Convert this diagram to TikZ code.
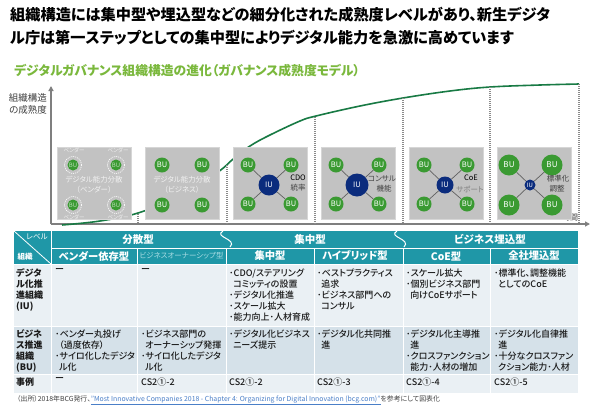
\documentclass[tikz,border=0pt]{standalone}
\usepackage{fontspec}
\setmainfont{Noto Sans CJK JP}[RawFeature=+palt]
\newfontfamily\medfont{Noto Sans CJK JP Medium}[RawFeature=+palt]
\usetikzlibrary{arrows.meta}
\definecolor{hdrteal}{HTML}{1F97A7}
\definecolor{rowlight}{HTML}{EAF0F4}
\definecolor{rowdark}{HTML}{D5E1E9}
\definecolor{bugreen}{HTML}{3A9A32}
\definecolor{iunavy}{HTML}{0B2C7D}
\definecolor{curvegreen}{HTML}{187A44}
\definecolor{subgreen}{HTML}{7AB83C}
\definecolor{boxgray}{HTML}{C2C2C2}
\definecolor{boxedge}{HTML}{D6D6D6}
\definecolor{spokegray}{HTML}{606060}
\definecolor{labgray}{HTML}{404040}
\definecolor{dotgray}{HTML}{8A8A8A}
\definecolor{axisgray}{HTML}{7F7F7F}
\definecolor{txtdark}{HTML}{1A1A1A}
\definecolor{linkblue}{HTML}{4A7FC8}
\definecolor{fadedhdr}{HTML}{A9DCE3}
\tikzset{
 box/.style={fill=boxgray, draw=boxedge, line width=0.8pt, minimum width=74, minimum height=72, anchor=north west, inner sep=0},
 bu/.style={circle, fill=bugreen, text=white, inner sep=0, minimum size=15, font=\fontsize{7.5}{8}\selectfont},
 bubig/.style={bu, minimum size=21, font=\fontsize{8}{8}\selectfont},
 iu/.style={circle, fill=iunavy, text=white, inner sep=0, font=\fontsize{7.5}{8}\selectfont},
 spoke/.style={draw=spokegray, line width=0.7pt},
 blabel/.style={inner sep=0, font=\fontsize{7.5}{8}\selectfont, text=labgray},
 boxtxt/.style={inner sep=0, font=\fontsize{7.4}{8}\selectfont, text=white!90!gray},
 vend/.style={inner sep=0, font=\fontsize{5.5}{6}\selectfont, text=white!75!boxgray},
 ring/.style={circle, draw=white, dash pattern=on 1pt off 1pt, line width=0.7pt, minimum size=17, inner sep=0},
 ghost/.style={circle, fill=bugreen, text=white!65!bugreen, minimum size=11, inner sep=0, font=\fontsize{6}{6}\selectfont},
 dotline/.style={draw=dotgray, line width=1.2pt, dash pattern=on 1pt off 1pt},
 hdr/.style={inner sep=0, text=white, font=\bfseries\fontsize{10.3}{11}\selectfont},
 cell/.style={anchor=north west, align=left, inner sep=0, font=\medfont\fontsize{9}{11}\selectfont, text=txtdark},
 rowlab/.style={cell, font=\bfseries\fontsize{9}{11}\selectfont},
 tgrid/.style={draw=white, line width=1pt},
}
\newcommand{\ind}{\hspace*{0.45em}}
\begin{document}
\begin{tikzpicture}[x=1pt,y=-1pt]
\fill[white] (0,0) rectangle (593,410);
\useasboundingbox (0,0) rectangle (593,410);

% title
\node[anchor=west, inner sep=0, font=\bfseries\fontsize{15.2}{18}\selectfont] (t1) at (10,15) {組織構造には集中型や埋込型などの細分化された成熟度レベルがあり、新生デジタ};
\node[anchor=west, inner sep=0, font=\bfseries\fontsize{15.2}{18}\selectfont] (t2) at (10,38) {ル庁は第一ステップとしての集中型によりデジタル能力を急激に高めています};
\node[anchor=west, inner sep=0, text=subgreen, font=\bfseries\fontsize{12.8}{14}\selectfont] (sub) at (14,71) {デジタルガバナンス組織構造の進化（ガバナンス成熟度モデル）};

% axes
\coordinate (O) at (51,224);
\coordinate (ytop) at (51,86);
\coordinate (xend) at (590,224);
\draw[axisgray, line width=1.8pt, -{Triangle[length=5pt,width=5pt]}] (O) -- (ytop);
\draw[axisgray, line width=1.2pt, -{Triangle[length=5pt,width=5pt]}] (O) -- (xend);
\node[inner sep=0, text=labgray, font=\fontsize{9.5}{10}\selectfont] (yl1) at (28,98) {組織構造};
\node[inner sep=0, text=labgray, font=\fontsize{9.5}{10}\selectfont] (yl2) at (28,110) {の成熟度};
\node[inner sep=0, text=labgray, font=\fontsize{8}{9}\selectfont] (xl) at (570,217) {時間};

% curve
\draw[curvegreen, line width=1.6pt] plot[smooth, tension=0.6] coordinates {(62,225) (100,221) (138,213) (180,196) (218,172) (232,160) (250,146) (270,135) (300,121) (316,116) (360,106) (403,98) (450,91) (490,87) (540,85) (579,84)};

% dotted lines
\foreach \i/\x/\y in {1/138/214, 2/227/165, 3/315/117, 4/403/98, 5/490/87, 6/579/84}{
  \coordinate (d\i t) at (\x,\y);
  \coordinate (d\i b) at (\x,224);
  \draw[dotline] (d\i t) -- (d\i b);
}

% boxes
\node[box] (b1) at (57,147) {};
\node[box] (b2) at (145,147) {};
\node[box] (b3) at (233,147) {};
\node[box] (b4) at (321,147) {};
\node[box] (b5) at (409,147) {};
\node[box] (b6) at (497,147) {};

% box 1
\foreach \n/\x/\y in {a/73/165, b/116/165, c/73/205, d/116/205}{
  \node[ring] (r1\n) at (\x,\y) {};
  \node[ghost] (g1\n) at (\x,\y) {BU};
}
\node[vend] (v1a) at (74,150) {ベンダー};
\node[vend] (v1b) at (118,150) {ベンダー};
\node[vend] (v1c) at (74,217) {ベンダー};
\node[vend] (v1d) at (118,217) {ベンダー};
\node[boxtxt] (bt1a) at (94,180) {デジタル能力分散};
\node[boxtxt] (bt1b) at (94,190) {（ベンダー）};

% box 2
\node[bu] (u2a) at (162,165) {BU};
\node[bu] (u2b) at (202,165) {BU};
\node[bu] (u2c) at (162,205) {BU};
\node[bu] (u2d) at (202,205) {BU};
\node[boxtxt] (bt2a) at (182,180) {デジタル能力分散};
\node[boxtxt] (bt2b) at (182,190) {（ビジネス）};

% box 3
\node[iu, minimum size=21] (i3) at (269,185) {IU};
\node[bu] (u3a) at (248,165) {BU};
\node[bu] (u3b) at (291,165) {BU};
\node[bu] (u3c) at (248,204) {BU};
\node[bu] (u3d) at (291,204) {BU};
\foreach \n in {a,b,c,d}{\draw[spoke] (i3) -- (u3\n);}
\node[blabel, text=black] (l3a) at (298,178) {CDO};
\node[blabel] (l3b) at (298,188) {統率};

% box 4
\node[iu, minimum size=23] (i4) at (357,185) {IU};
\node[bu] (u4a) at (336,165) {BU};
\node[bu] (u4b) at (379,165) {BU};
\node[bu] (u4c) at (336,204) {BU};
\node[bu] (u4d) at (379,204) {BU};
\foreach \n in {a,b,c,d}{\draw[spoke] (i4) -- (u4\n);}
\node[blabel] (l4a) at (382,179) {コンサル};
\node[blabel] (l4b) at (384,189) {機能};

% box 5
\node[iu, minimum size=17] (i5) at (445,185) {IU};
\node[bu] (u5a) at (424,165) {BU};
\node[bu] (u5b) at (467,165) {BU};
\node[bu] (u5c) at (424,204) {BU};
\node[bu] (u5d) at (467,204) {BU};
\foreach \n in {a,b,c,d}{\draw[spoke] (i5) -- (u5\n);}
\node[blabel, text=black] (l5a) at (471,178) {CoE};
\node[blabel, text=gray] (l5b) at (470,189) {サポート};

% box 6
\node[iu, minimum size=11, font=\fontsize{6}{6}\selectfont] (i6) at (530,185) {IU};
\node[bubig] (u6a) at (509,165) {BU};
\node[bubig] (u6b) at (552,165) {BU};
\node[bubig] (u6c) at (509,205) {BU};
\node[bubig] (u6d) at (552,205) {BU};
\foreach \n in {a,b,c,d}{\draw[spoke] (i6) -- (u6\n);}
\node[blabel] (l6a) at (558,179) {標準化};
\node[blabel] (l6b) at (557,189) {調整};

% table backgrounds
\fill[hdrteal] (14,231) rectangle (578,264);
\fill[rowlight] (14,264) rectangle (578,326);
\fill[rowdark] (14,326) rectangle (578,374);
\fill[rowlight] (14,374) rectangle (578,393);

% table grid lines
\coordinate (hA) at (51,248); \coordinate (hB) at (578,248);
\draw[tgrid] (hA) -- (hB);
\foreach \yy in {264,326,374}{
  \coordinate (hl\yy) at (14,\yy); \coordinate (hr\yy) at (578,\yy);
  \draw[tgrid] (hl\yy) -- (hr\yy);
}
\coordinate (vc1) at (51,231); \coordinate (vc2) at (51,393);
\draw[tgrid] (vc1) -- (vc2);
\foreach \xx in {137,226,314,403,490}{
  \coordinate (vt\xx) at (\xx,248); \coordinate (vb\xx) at (\xx,393);
  \draw[tgrid] (vt\xx) -- (vb\xx);
}
\coordinate (dg1) at (14,231); \coordinate (dg2) at (51,264);
\draw[white, line width=0.8pt] (dg1) -- (dg2);
% waves
\coordinate (w1a) at (223,231); \coordinate (w1b) at (230,247);
\coordinate (w1c) at (213,237); \coordinate (w1d) at (238,239);
\draw[white, line width=1pt] (w1a) .. controls (w1c) and (w1d) .. (w1b);
\coordinate (w2a) at (397,231); \coordinate (w2b) at (404,247);
\coordinate (w2c) at (387,237); \coordinate (w2d) at (412,239);
\draw[white, line width=1pt] (w2a) .. controls (w2c) and (w2d) .. (w2b);

% header texts
\node[inner sep=0, text=white, font=\fontsize{7.5}{8}\selectfont] (cnr1) at (37,237) {レベル};
\node[inner sep=0, text=white, font=\bfseries\fontsize{7.5}{8}\selectfont] (cnr2) at (25,257) {組織};
\node[hdr, font=\bfseries\fontsize{10.5}{11}\selectfont] (g1) at (138,239.5) {分散型};
\node[hdr, font=\bfseries\fontsize{10.5}{11}\selectfont] (g2) at (310,239.5) {集中型};
\node[hdr, font=\bfseries\fontsize{10.5}{11}\selectfont] (g3) at (490,239.5) {ビジネス埋込型};
\node[hdr] (c2) at (94,256) {ベンダー依存型};
\node[hdr, text=fadedhdr, font=\fontsize{7.5}{8}\selectfont] (c3) at (181.5,256) {ビジネスオーナーシップ型};
\node[hdr] (c4) at (270,256) {集中型};
\node[hdr] (c5) at (355,256) {ハイブリッド型};
\node[hdr] (c6) at (446,256) {CoE型};
\node[hdr] (c7) at (534,256) {全社埋込型};

% IU row
\node[rowlab] (r1l) at (16,268.5) {デジタ\\ル化推\\進組織\\(IU)};
\node[cell] (r1c2) at (55,268.5) {ー};
\node[cell] (r1c3) at (141,268.5) {ー};
\node[cell] (r1c4) at (229,268.5) {･CDO/ステアリング\\\ind コミッティの設置\\･デジタル化推進\\･スケール拡大\\･能力向上･人材育成};
\node[cell] (r1c5) at (317,268.5) {･ベストプラクティス\\\ind 追求\\･ビジネス部門への\\\ind コンサル};
\node[cell] (r1c6) at (406,268.5) {･スケール拡大\\･個別ビジネス部門\\\ind 向けCoEサポート};
\node[cell] (r1c7) at (494,268.5) {･標準化、調整機能\\\ind としてのCoE};

% BU row
\node[rowlab] (r2l) at (16,329.5) {ビジネ\\ス推進\\組織\\(BU)};
\node[cell] (r2c2) at (55,329.5) {･ベンダー丸投げ\\\ind （過度依存）\\･サイロ化したデジタ\\\ind ル化};
\node[cell] (r2c3) at (141,329.5) {･ビジネス部門の\\\ind オーナーシップ発揮\\･サイロ化したデジタ\\\ind ル化};
\node[cell] (r2c4) at (229,329.5) {･デジタル化ビジネス\\\ind ニーズ提示};
\node[cell] (r2c5) at (317,329.5) {･デジタル化共同推\\\ind 進};
\node[cell] (r2c6) at (406,329.5) {･デジタル化主導推\\\ind 進\\･クロスファンクション\\\ind 能力･人材の増加};
\node[cell] (r2c7) at (494,329.5) {･デジタル化自律推\\\ind 進\\･十分なクロスファン\\\ind クション能力･人材};

% case row
\node[rowlab] (r3l) at (16,377.5) {事例};
\node[cell] (r3c2) at (55,377.5) {ー};
\node[cell] (r3c3) at (141,377.5) {CS2①-2};
\node[cell] (r3c4) at (229,377.5) {CS2①-2};
\node[cell] (r3c5) at (317,377.5) {CS2①-3};
\node[cell] (r3c6) at (406,377.5) {CS2①-4};
\node[cell] (r3c7) at (494,377.5) {CS2①-5};

% footnote
\node[anchor=west, inner sep=0, text=labgray, font=\fontsize{6.9}{7}\selectfont] (fn) at (17,400) {（出所）2018年BCG発行、\textcolor{linkblue}{\underline{"Most Innovative Companies 2018 - Chapter 4: Organizing for Digital Innovation (bcg.com)"}}を参考にして図表化};
\end{tikzpicture}
\end{document}
